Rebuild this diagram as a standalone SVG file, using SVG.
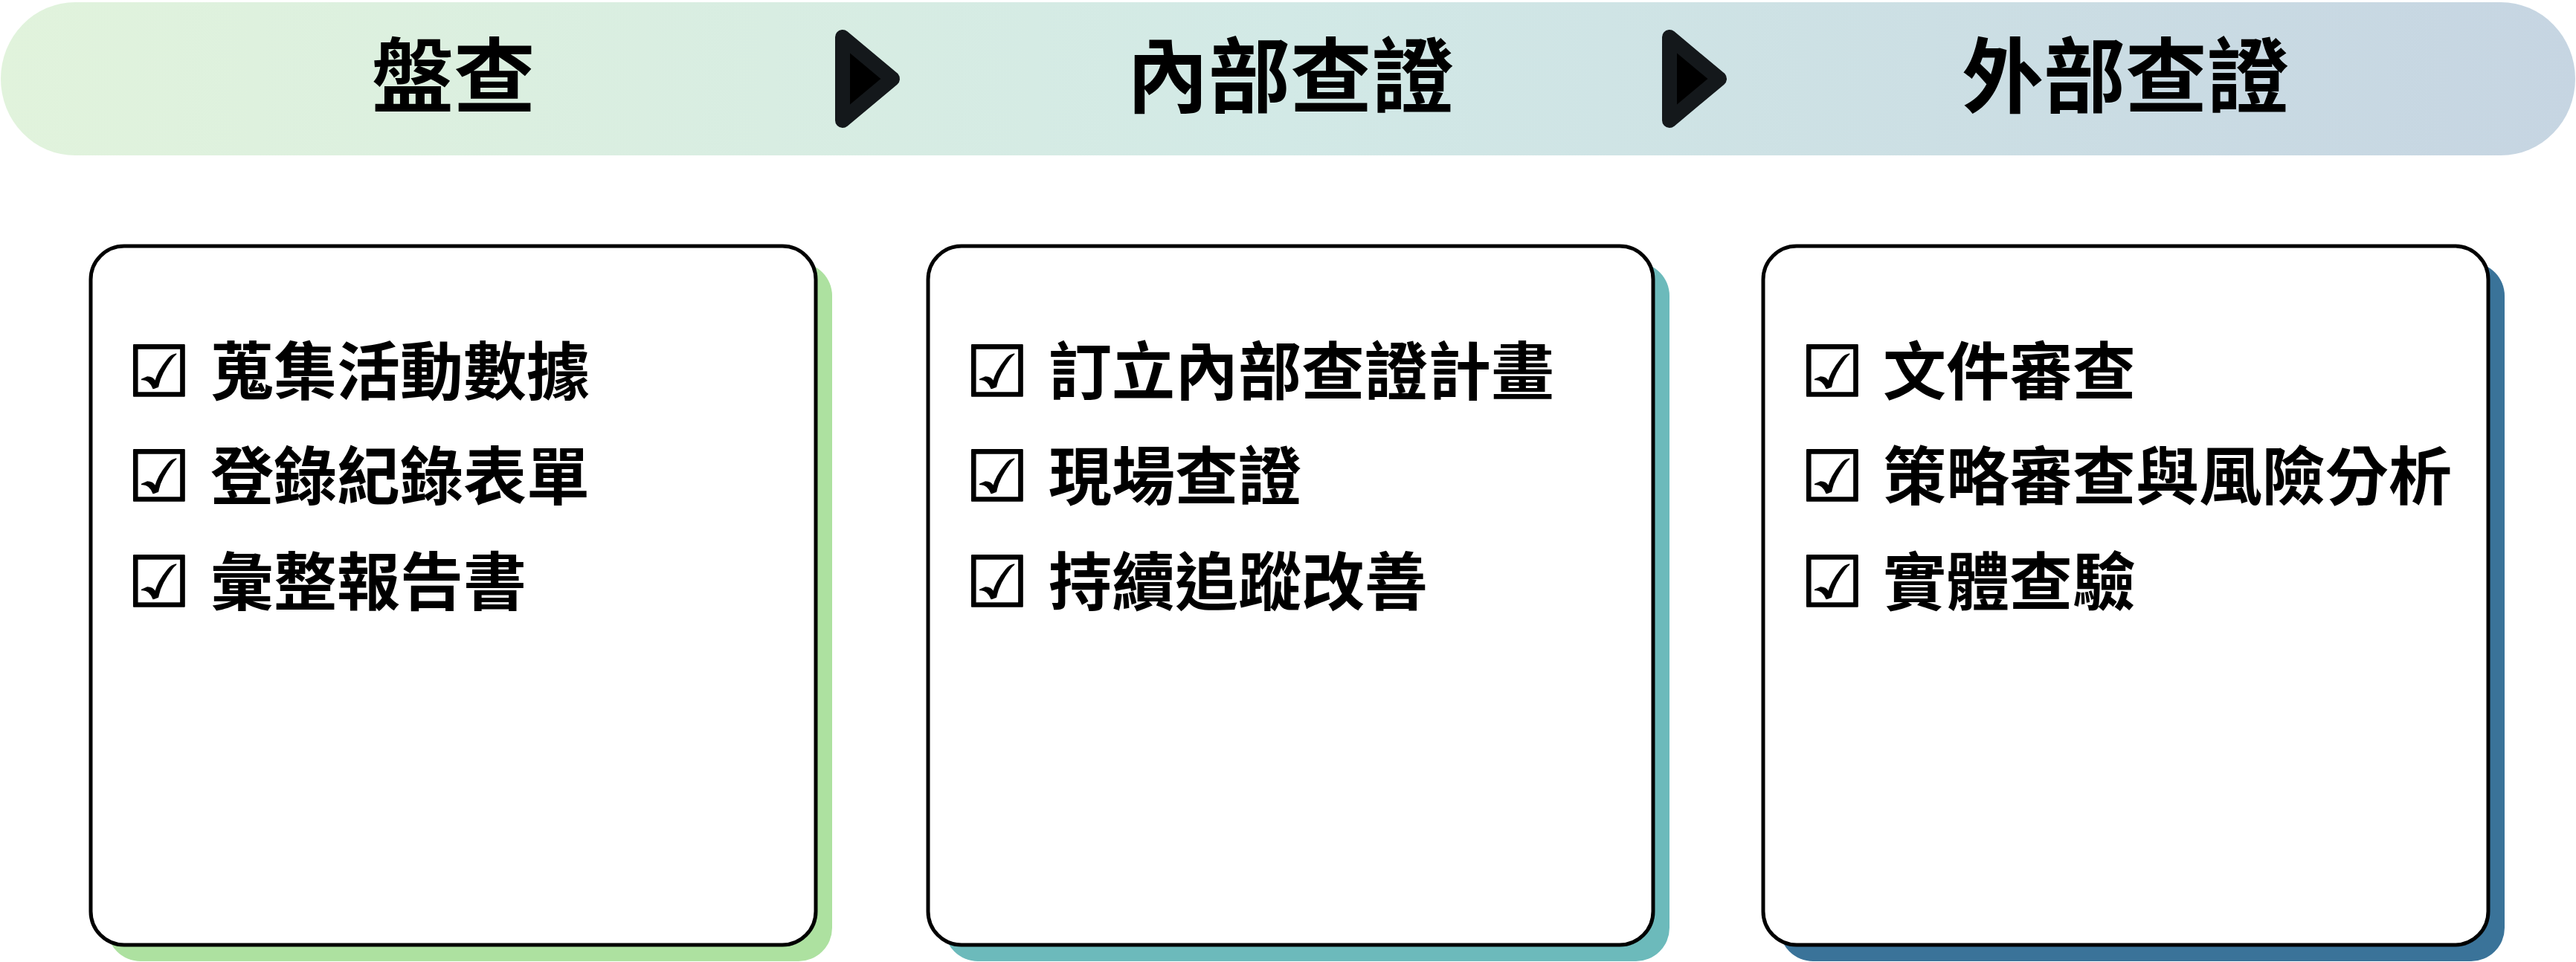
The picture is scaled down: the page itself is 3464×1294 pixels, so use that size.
<svg xmlns="http://www.w3.org/2000/svg" width="3464" height="1294" viewBox="0 0 3464 1294">
  <defs>
    <linearGradient id="bannerGrad" x1="0" y1="0" x2="1" y2="0">
      <stop offset="0" stop-color="#e1f3dc"/>
      <stop offset="0.5" stop-color="#d2e9e6"/>
      <stop offset="1" stop-color="#c6d5e2"/>
    </linearGradient>
  </defs>
  <style>
    .title { font-family: "Noto Sans CJK TC", "Noto Sans CJK SC", sans-serif; font-weight: 700; font-size: 110px; fill: #000; text-anchor: middle; }
    .item { font-family: "Noto Sans CJK TC", "Noto Sans CJK SC", sans-serif; font-weight: 700; font-size: 85px; fill: #000; }
    .chk { font-family: "DejaVu Sans", sans-serif; font-weight: 400; font-size: 95px; stroke: #000; stroke-width: 1.5; }
    .card { fill: #ffffff; stroke: #000; stroke-width: 5; }
    .arrow { fill: #000; stroke: #14181b; stroke-width: 20; stroke-linejoin: round; }
  </style>

  <g id="banner">
    <rect x="1" y="3" width="3462" height="206" rx="100" ry="103" fill="url(#bannerGrad)"/>
    <text class="title" x="610" y="143">盤查</text>
    <text class="title" x="1735" y="143">內部查證</text>
    <text class="title" x="2858" y="143">外部查證</text>
  </g>

  <g id="connectors">
    <polygon class="arrow" points="1133,50 1133,162 1200,106"/>
    <polygon class="arrow" points="2245,50 2245,162 2312,106"/>
  </g>

  <g id="node-inventory">
    <rect x="144" y="353" width="975" height="940" rx="45" fill="#ade1a0"/>
    <rect class="card" x="122" y="331" width="975" height="940" rx="45"/>
    <text class="item" y="533"><tspan class="chk" x="171">☑</tspan><tspan x="283" y="531">蒐集活動數據</tspan></text>
    <text class="item" y="674"><tspan class="chk" x="171">☑</tspan><tspan x="283" y="672">登錄紀錄表單</tspan></text>
    <text class="item" y="816"><tspan class="chk" x="171">☑</tspan><tspan x="283" y="814">彙整報告書</tspan></text>
  </g>

  <g id="node-internal">
    <rect x="1270" y="353" width="975" height="940" rx="45" fill="#6cbabb"/>
    <rect class="card" x="1248" y="331" width="975" height="940" rx="45"/>
    <text class="item" y="533"><tspan class="chk" x="1298">☑</tspan><tspan x="1410" y="531">訂立內部查證計畫</tspan></text>
    <text class="item" y="674"><tspan class="chk" x="1298">☑</tspan><tspan x="1410" y="672">現場查證</tspan></text>
    <text class="item" y="816"><tspan class="chk" x="1298">☑</tspan><tspan x="1410" y="814">持續追蹤改善</tspan></text>
  </g>

  <g id="node-external">
    <rect x="2393" y="353" width="975" height="940" rx="45" fill="#3a7399"/>
    <rect class="card" x="2371" y="331" width="975" height="940" rx="45"/>
    <text class="item" y="533"><tspan class="chk" x="2421">☑</tspan><tspan x="2532" y="531">文件審查</tspan></text>
    <text class="item" y="674"><tspan class="chk" x="2421">☑</tspan><tspan x="2532" y="672">策略審查與風險分析</tspan></text>
    <text class="item" y="816"><tspan class="chk" x="2421">☑</tspan><tspan x="2532" y="814">實體查驗</tspan></text>
  </g>
</svg>
